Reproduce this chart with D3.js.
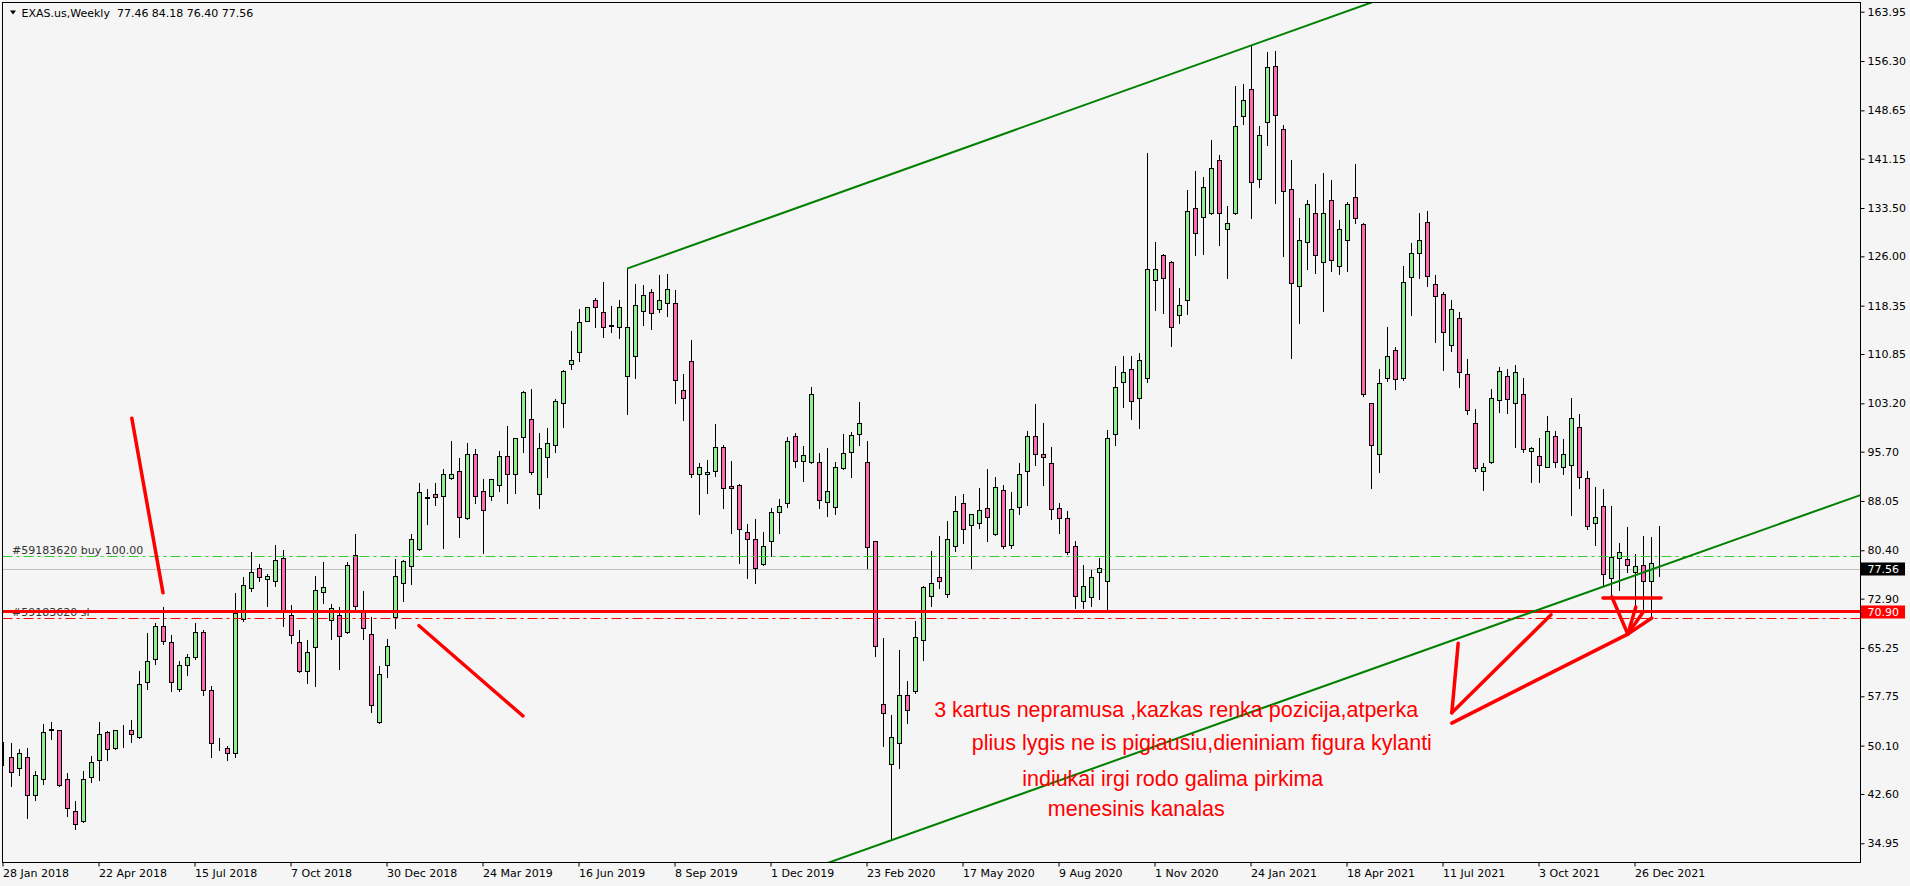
<!DOCTYPE html>
<html><head><meta charset="utf-8">
<script src="https://cdn.jsdelivr.net/npm/d3@7"></script>
<style>
html,body{margin:0;padding:0;background:#f5f5f5;overflow:hidden}
svg{display:block}
</style></head><body>
<svg id="c" width="1910" height="886"></svg>
<script>
// ---------------- DATA ----------------
const symbolName = "EXAS.us,Weekly";
const firstWeek = "2018-01-28";
const openP = [49.2,48.4,46.6,48.4,42.4,45.0,52.5,52.5,45.0,40.0,38.4,45.2,47.8,52.2,49.7,52.5,52.5,51.4,59.9,63.6,
68.6,66.1,58.9,62.6,63.8,67.7,58.8,50.1,49.8,48.9,69.7,74.5,77.6,76.0,75.6,79.2,70.3,66.1,61.6,65.4,
74.0,69.6,70.3,67.7,79.6,71.1,67.4,53.7,62.6,70.1,75.4,77.9,80.6,88.6,89.2,88.8,91.6,92.7,85.4,95.3,
89.6,88.9,90.5,95.0,92.3,97.9,100.7,89.1,94.8,96.8,103.2,109.3,111.1,115.9,119.2,117.3,115.2,115.1,107.5,110.6,
117.6,120.4,117.8,118.7,118.7,105.2,109.7,92.2,92.2,92.7,96.5,90.3,90.6,83.2,82.1,78.2,81.8,86.4,87.7,98.1,
94.2,94.1,94.1,87.9,87.1,93.1,95.6,98.4,94.1,81.8,56.5,47.2,50.5,58.0,58.5,66.5,73.3,76.2,73.6,81.0,
87.8,84.3,84.6,86.9,82.9,89.7,81.2,87.1,92.7,98.1,95.4,93.9,86.9,85.4,81.0,72.6,73.1,77.1,75.6,98.4,
106.5,108.6,104.1,107.2,122.4,126.2,125.2,116.9,119.2,133.5,132.1,132.7,140.9,130.2,132.7,147.7,151.9,138.0,146.9,155.6,
145.7,136.4,121.4,128.2,132.8,125.2,134.7,124.5,128.5,135.2,131.0,103.2,95.3,107.2,111.4,107.2,122.8,126.5,131.3,121.7,
120.1,112.2,116.5,107.7,100.1,92.7,94.1,103.7,107.4,103.2,104.6,95.8,95.1,93.4,98.1,93.4,93.7,99.6,91.6,84.6,
87.2,76.1,79.2,79.0,77.1,78.1,75.6,77.46];
const highP = [50.6,50.5,49.6,49.7,46.2,53.5,53.7,52.5,45.8,41.5,46.1,48.5,53.7,52.3,52.5,53.3,54.0,61.7,67.5,69.1,
71.6,67.3,63.2,64.3,69.2,68.1,59.3,51.3,50.0,73.7,76.2,80.2,78.2,76.8,81.3,80.5,71.9,68.0,66.5,76.4,
78.6,72.1,71.6,78.6,82.9,74.1,70.1,62.5,66.6,79.0,78.9,82.9,90.8,89.9,90.8,93.0,97.4,94.7,97.1,96.1,
91.5,91.5,95.8,99.7,97.8,105.1,105.5,98.6,99.4,103.8,108.3,114.4,117.9,118.1,119.6,122.0,118.3,119.2,124.1,121.7,
121.5,121.0,123.1,123.2,120.8,107.7,113.1,93.9,94.4,100.0,96.8,94.2,90.7,84.5,85.3,83.3,86.9,88.3,97.9,98.6,
96.6,105.8,95.5,96.3,94.1,98.5,98.7,103.4,97.4,81.8,66.8,54.9,64.9,60.1,69.5,74.8,80.3,82.6,84.9,88.8,
89.1,86.0,90.1,93.0,91.8,90.5,89.5,93.9,98.9,103.1,100.2,96.5,87.7,86.5,81.8,78.1,77.3,79.2,99.1,109.0,
110.5,110.5,111.0,142.0,128.2,126.3,125.3,121.1,136.3,139.3,138.3,144.0,141.7,133.8,152.5,152.8,158.7,146.2,157.7,157.8,
146.3,140.9,131.9,134.7,137.3,138.9,137.8,131.6,134.5,140.3,131.1,103.3,108.5,115.0,112.0,124.5,128.0,132.7,133.1,123.1,
120.4,119.3,117.3,110.0,102.3,93.9,105.5,108.8,108.6,109.1,107.1,96.5,97.8,101.3,98.9,97.6,104.1,101.5,92.7,90.2,
89.9,87.2,81.6,84.0,79.8,82.6,82.4,84.18];
const lowP = [47.1,43.9,45.5,38.8,41.7,44.2,51.1,43.9,39.2,37.2,38.3,44.4,44.8,47.9,49.6,49.9,50.7,51.3,58.9,62.8,
65.8,58.6,58.5,61.1,63.5,57.9,48.4,49.4,47.8,48.3,69.5,74.1,75.6,71.8,74.9,68.6,66.0,61.5,59.8,59.3,
72.2,66.6,62.0,67.6,70.8,66.6,55.3,53.6,60.8,68.4,72.6,75.2,80.5,84.5,87.4,80.8,91.5,82.4,85.3,87.7,
80.0,88.2,89.6,87.8,89.3,95.6,92.2,87.0,91.8,95.7,99.6,108.5,109.8,115.9,115.1,113.5,114.2,113.4,101.5,107.1,
115.3,114.7,117.4,116.8,103.2,100.6,91.7,86.1,89.3,92.0,86.9,83.1,78.4,76.1,75.4,78.1,79.5,83.1,87.1,93.3,
91.2,94.0,86.9,85.7,86.1,93.0,91.7,96.8,77.6,64.0,50.0,35.4,46.6,53.6,58.2,63.4,71.7,74.5,73.1,80.3,
81.6,77.6,83.8,81.9,82.8,80.7,80.7,86.1,87.5,93.7,90.6,85.2,83.1,79.8,71.5,71.5,71.8,72.8,71.3,96.7,
102.6,100.7,99.3,106.5,117.7,117.2,112.1,115.6,117.0,126.2,126.4,132.6,127.7,122.7,132.6,146.5,131.9,136.7,143.2,134.2,
126.1,110.3,115.6,124.1,123.4,117.5,123.7,123.2,123.7,131.1,104.3,90.0,92.5,106.6,105.5,106.8,116.9,122.7,121.4,112.7,
108.3,111.3,105.8,101.5,92.7,89.7,94.0,101.8,101.7,96.5,95.6,91.0,91.0,93.3,93.4,92.3,85.8,90.0,83.7,81.2,
74.8,73.4,74.2,77.0,71.7,71.1,70.2,76.40];
const closeP = [49.3,46.0,48.9,42.4,45.5,52.2,52.7,44.0,40.4,37.9,45.0,47.5,51.9,49.5,52.5,52.6,51.9,59.6,63.3,68.6,
66.4,59.9,62.6,63.8,67.7,58.8,50.5,50.0,48.9,70.6,75.0,77.1,76.2,76.4,78.9,71.2,67.2,61.6,64.7,74.2,
74.7,71.4,67.1,78.1,71.7,68.3,56.4,61.2,65.6,76.4,78.8,82.1,89.4,88.5,88.6,92.3,92.3,85.5,95.3,88.9,
86.6,91.4,95.0,92.3,97.8,104.9,92.5,96.2,97.0,103.5,108.2,109.9,115.8,118.1,118.1,115.0,115.3,118.1,115.1,118.4,
120.0,117.2,119.3,121.0,106.8,104.0,92.2,93.3,92.6,96.5,90.0,90.0,83.7,82.1,77.7,81.0,86.3,87.2,97.4,94.2,
95.2,104.6,88.2,89.6,93.3,95.5,98.3,100.1,80.9,65.5,55.1,51.5,57.9,55.6,66.9,74.7,75.4,75.6,82.2,86.5,
83.7,86.0,86.6,85.5,90.2,81.0,86.8,92.2,98.1,95.4,94.8,86.8,85.4,80.2,73.3,74.8,76.2,77.6,97.8,105.7,
108.0,103.5,109.9,124.0,124.1,122.7,115.1,118.4,133.0,129.7,136.7,139.7,132.7,131.1,146.2,150.2,137.5,144.8,155.3,147.9,
136.1,121.8,128.5,134.1,126.2,132.7,125.5,130.2,134.1,131.9,104.6,96.8,106.3,110.5,106.9,122.0,126.5,128.6,122.9,119.8,
114.2,117.9,108.0,102.1,93.1,93.3,104.0,108.2,103.8,108.0,96.1,96.2,93.7,98.9,94.1,95.3,100.9,91.7,84.1,85.5,
76.7,79.3,80.2,78.1,77.9,75.7,78.5,77.56];

const xTickLabels = ["28 Jan 2018","22 Apr 2018","15 Jul 2018","7 Oct 2018","30 Dec 2018","24 Mar 2019",
  "16 Jun 2019","8 Sep 2019","1 Dec 2019","23 Feb 2020","17 May 2020","9 Aug 2020","1 Nov 2020",
  "24 Jan 2021","18 Apr 2021","11 Jul 2021","3 Oct 2021","26 Dec 2021"];
const yTickValues = [163.95,156.30,148.65,141.15,133.50,126.00,118.35,110.85,103.20,95.70,88.05,80.40,
  72.90,65.25,57.75,50.10,42.60,34.95];
const yDomain = [31.97, 165.38];

const buyLevel = 79.45, buyLabel = "#59183620 buy 100.00";
const slLevel = 69.90, slLabel = "#59183620 sl";
const hLineLevel = 70.90;

// trend lines: [bar index, price] anchors
const channelUpper = [[78,124.1],[156,158.7]];
const channelLower = [[111,35.4],[206,77.4]];

// hand-drawn red strokes: [[bar, price],[bar, price]]
const redStrokes = [
  [[16.1,100.9],[20.0,73.8]],
  [[52.0,68.7],[65.0,54.7]],
  [[181.9,66.0],[181.1,55.2]],
  [[181.1,55.2],[193.5,70.4]],
  [[181.1,53.6],[203.1,67.4]],
  [[200.0,73.0],[207.25,73.0]],
  [[201.1,73.2],[203.1,67.4]],
  [[204.1,71.6],[203.1,67.4]],
  [[205.0,70.8],[203.1,67.4]],
  [[206.1,69.9],[203.1,67.4]]
];
const noteLines = [
  {text:"3 kartus nepramusa ,kazkas renka pozicija,atperka", bar:116.4, price:54.5},
  {text:"plius lygis ne is pigiausiu,dieniniam figura kylanti", bar:121.1, price:49.4},
  {text:"indiukai irgi rodo galima pirkima", bar:127.4, price:43.8},
  {text:"menesinis kanalas", bar:130.6, price:39.2}
];

// ---------------- CHART ----------------
const W = 1910, H = 886;
const plot = {l:2.5, t:2.5, r:1860.5, b:862.5};
const N = openP.length;
const fmtDate = d3.timeFormat("%-d %b %Y");
const d0 = d3.timeParse("%Y-%m-%d")(firstWeek);
const categories = d3.range(N).map(i => fmtDate(d3.timeDay.offset(d0, 7*i)));

const x = d3.scaleBand().domain(categories).range([-1, -1 + 8*N]).padding(0);
const bw = x.bandwidth();
const xIdx = d3.scaleLinear().domain([0, N-1])
  .range([x(categories[0]) + bw/2, x(categories[N-1]) + bw/2]);
const y = d3.scaleLinear().domain(yDomain).range([plot.b, plot.t]);

const svg = d3.select("#c");
svg.append("rect").attr("width",W).attr("height",H).attr("fill","#f5f5f5");

const defs = svg.append("defs");
defs.append("clipPath").attr("id","pc").append("rect")
  .attr("x",plot.l+0.5).attr("y",plot.t+0.5)
  .attr("width",plot.r-plot.l-1).attr("height",plot.b-plot.t-1);

const g = svg.append("g").attr("clip-path","url(#pc)");
const FONT = "'DejaVu Sans', sans-serif";
const snap = v => Math.round(v) + 0.5;

// gray bid line
const lastClose = closeP[N-1];
g.append("line").attr("x1",plot.l).attr("x2",plot.r)
  .attr("y1",snap(y(lastClose))).attr("y2",snap(y(lastClose)))
  .attr("stroke","#c0c0c0").attr("stroke-width",1);

// candles
const cg = g.append("g");
d3.range(N).forEach(i => {
  const cx = Math.round(x(categories[i]) + bw/2);
  const o = openP[i], c = closeP[i];
  cg.append("line").attr("x1",cx+0.5).attr("x2",cx+0.5)
    .attr("y1",Math.round(y(highP[i]))).attr("y2",Math.round(y(lowP[i]))+1)
    .attr("stroke","#000").attr("stroke-width",1);
  const yt = snap(y(Math.max(o,c))), yb = snap(y(Math.min(o,c)));
  cg.append("rect").attr("x",cx-1.5).attr("width",4)
    .attr("y",yt).attr("height",Math.max(0,yb-yt))
    .attr("fill", c >= o ? "#90ee90" : "#ff69b4")
    .attr("stroke","#000").attr("stroke-width",1);
});

// trade level lines
function hline(level, color, width, dash){
  const l = g.append("line").attr("x1",plot.l).attr("x2",plot.r)
    .attr("y1",snap(y(level))).attr("y2",snap(y(level)))
    .attr("stroke",color).attr("stroke-width",width);
  if(dash) l.attr("stroke-dasharray",dash);
  return l;
}
hline(buyLevel,"#32cd32",1,"10,4,3,4");
hline(slLevel,"#ff0000",1,"10,4,3,4");
g.append("text").attr("x",12).attr("y",snap(y(buyLevel))-3)
  .attr("font-family",FONT).attr("font-size",11).attr("fill","#333").text(buyLabel);
g.append("text").attr("x",12).attr("y",snap(y(slLevel))-3)
  .attr("font-family",FONT).attr("font-size",11).attr("fill","#333").text(slLabel);
g.append("line").attr("x1",plot.l).attr("x2",plot.r)
  .attr("y1",y(hLineLevel)).attr("y2",y(hLineLevel))
  .attr("stroke","#ff0000").attr("stroke-width",3);

// channel lines
function rayLine(anchors, fromBar, toBar){
  const [[b1,p1],[b2,p2]] = anchors;
  const k = (p2-p1)/(b2-b1);
  const pf = b => p1 + k*(b-b1);
  g.append("line")
    .attr("x1",xIdx(fromBar)).attr("y1",y(pf(fromBar)))
    .attr("x2",xIdx(toBar)).attr("y2",y(pf(toBar)))
    .attr("stroke","#008000").attr("stroke-width",2);
}
rayLine(channelUpper, channelUpper[0][0], 240);
rayLine(channelLower, 90, 240);

// red hand-drawn strokes
redStrokes.forEach(s => {
  g.append("line")
    .attr("x1",xIdx(s[0][0])).attr("y1",y(s[0][1]))
    .attr("x2",xIdx(s[1][0])).attr("y2",y(s[1][1]))
    .attr("stroke","#ff0000").attr("stroke-width",3.5).attr("stroke-linecap","round");
});

// notes
noteLines.forEach(n => {
  g.append("text").attr("x",xIdx(n.bar)).attr("y",y(n.price))
    .attr("font-family","'Liberation Sans', Arial, sans-serif").attr("font-size",21.5)
    .attr("fill","#ff0000").text(n.text);
});

// frame
svg.append("rect").attr("x",plot.l).attr("y",plot.t)
  .attr("width",plot.r-plot.l).attr("height",plot.b-plot.t)
  .attr("fill","none").attr("stroke","#000").attr("stroke-width",1);

// y axis
const ya = svg.append("g").attr("transform",`translate(${plot.r},0)`)
  .call(d3.axisRight(y).tickValues(yTickValues).tickFormat(d3.format(".2f")).tickSize(4).tickSizeOuter(0));
ya.select(".domain").remove();
ya.selectAll("text").attr("font-family",FONT).attr("font-size",11).attr("fill","#000");
ya.selectAll("line").attr("stroke","#000");

// x axis
const xa = svg.append("g").attr("transform",`translate(0,${plot.b})`)
  .call(d3.axisBottom(x).tickValues(xTickLabels).tickSize(4).tickSizeOuter(0));
xa.select(".domain").remove();
xa.selectAll("text").attr("font-family",FONT).attr("font-size",11).attr("fill","#000")
  .attr("text-anchor","start").attr("x",0);
xa.selectAll("line").attr("stroke","#000");

// price boxes
function priceBox(p, bg){
  const yc = y(p);
  svg.append("rect").attr("x",1861).attr("y",Math.round(yc)-6.5).attr("width",44).attr("height",13).attr("fill",bg);
  svg.append("text").attr("x",1867.5).attr("y",yc).attr("dy","0.36em")
    .attr("font-family",FONT).attr("font-size",11).attr("fill","#fff").text(d3.format(".2f")(p));
}
priceBox(lastClose,"#000");
priceBox(hLineLevel,"#ff0000");

// header
svg.append("path").attr("d","M10,10.5 L16,10.5 L13,14.5 Z").attr("fill","#000");
svg.append("text").attr("x",21.5).attr("y",16.5).attr("font-family",FONT).attr("font-size",11)
  .attr("fill","#000").style("white-space","pre")
  .text(`${symbolName}  ${openP[N-1].toFixed(2)} ${highP[N-1].toFixed(2)} ${lowP[N-1].toFixed(2)} ${closeP[N-1].toFixed(2)}`);
</script>
</body></html>
